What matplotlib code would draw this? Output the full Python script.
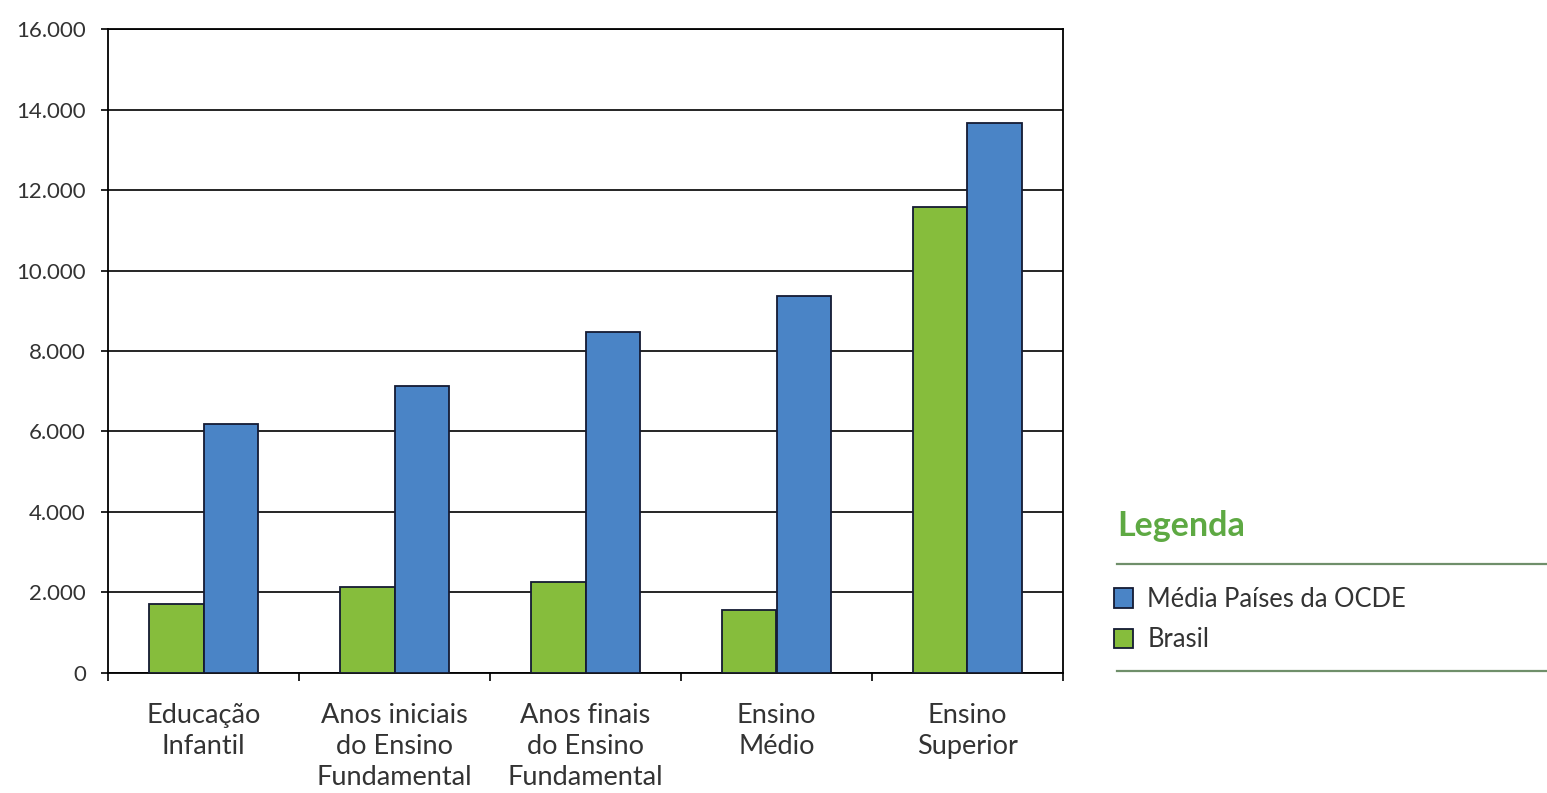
import matplotlib
matplotlib.use("Agg")
import matplotlib.pyplot as plt
from matplotlib.ticker import FuncFormatter, FixedLocator
from matplotlib.lines import Line2D

plt.rcParams['font.family'] = ['Lato', 'DejaVu Sans']

categories = ["Educação\nInfantil",
              "Anos iniciais\ndo Ensino\nFundamental",
              "Anos finais\ndo Ensino\nFundamental",
              "Ensino\nMédio",
              "Ensino\nSuperior"]
brasil = [1700, 2120, 2250, 1570, 11570]
ocde = [6190, 7140, 8480, 9380, 13680]
yticks = [0, 2000, 4000, 6000, 8000, 10000, 12000, 14000, 16000]

green = "#86bd3c"
blue = "#4a84c6"
edge = "#141a33"
text_col = "#333333"

W, H = 1547, 793
fig = plt.figure(figsize=(W / 100, H / 100), dpi=100)
ax = fig.add_axes([108 / W, 1 - 672.7 / H, (1063 - 108) / W, (672.7 - 29.3) / H])

x = list(range(len(categories)))
bw = 0.283
ax.bar([i - bw / 2 for i in x], brasil, width=bw, color=green,
       edgecolor=edge, linewidth=1.3, label="Brasil", zorder=3)
ax.bar([i + bw / 2 for i in x], ocde, width=bw, color=blue,
       edgecolor=edge, linewidth=1.3, label="Média Países da OCDE", zorder=3)

ax.set_xlim(-0.5, len(categories) - 0.5)
ax.set_ylim(0, 16000)
ax.set_yticks(yticks)
ax.yaxis.set_major_formatter(FuncFormatter(lambda v, p: f"{int(v):,}".replace(",", ".")))
ax.yaxis.grid(True, color="black", linewidth=1.2, zorder=0)
ax.set_axisbelow(True)

ax.set_xticks(x)
ax.set_xticklabels(categories, fontsize=19.5, color=text_col, linespacing=1.3)
ax.tick_params(axis="x", which="major", length=0, pad=22)
ax.xaxis.set_minor_locator(FixedLocator([i - 0.5 for i in range(len(categories) + 1)]))
ax.tick_params(axis="x", which="minor", length=6, width=1.2, color="black", direction="out")
ax.tick_params(axis="y", length=5, width=1.2, color="black", direction="out",
               labelsize=16, labelcolor=text_col, pad=11)

for s in ax.spines.values():
    s.set_color("black")
    s.set_linewidth(1.3)

# legend block
fig.text(1117 / W, 1 - 526 / H, "Legenda", fontsize=24.5, fontweight="bold",
         color="#5ea943", va="center", ha="left")
for yy in (563.5, 671):
    fig.add_artist(Line2D([1117 / W, 1.0], [1 - yy / H, 1 - yy / H],
                          color="#6f8f6a", linewidth=1.6, transform=fig.transFigure))
handles, labels = ax.get_legend_handles_labels()
leg = fig.legend(handles[::-1], labels[::-1], loc="upper left",
                 bbox_to_anchor=(1114 / W, 1 - 587 / H), frameon=False,
                 fontsize=18.4, handlelength=0.75, handleheight=0.8,
                 handletextpad=0.55, labelspacing=0.6, borderpad=0,
                 borderaxespad=0)
for t in leg.get_texts():
    t.set_color(text_col)

fig.savefig("out.png", dpi=100, facecolor="white")
